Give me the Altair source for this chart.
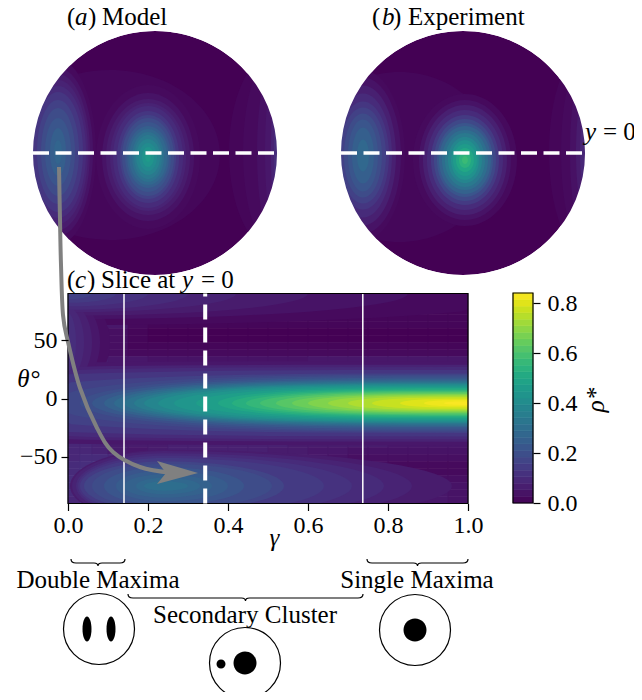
import math
import altair as alt
import pandas as pd

FONT = "Liberation Serif"
FS = 25
TS = 24

# ---- panel (c): rho*, rows theta=87..-87 (6 deg), columns below
gamma_edges = [0, .03, .06, .1, .15, .2, .25, .3, .35, .4, .45, .5, .55, .6, .65, .7, .75, .8, .85, .9, .95, 1.0]
theta_edges = [90, 84, 78, 72, 66, 60, 54, 48, 42, 36, 30, 24, 18, 12, 6, 0, -6, -12, -18, -24, -30, -36, -42, -48, -54, -60, -66, -72, -78, -84, -90]
rho = [
 [.18,.17,.15,.14,.13,.12,.11,.10,.09,.08,.08,.07,.06,.06,.05,.05,.04,.04,.03,.03,.03],
 [.17,.15,.14,.13,.11,.09,.08,.07,.07,.06,.06,.05,.05,.04,.04,.03,.03,.03,.02,.02,.02],
 [.16,.14,.12,.10,.08,.06,.05,.05,.04,.04,.03,.03,.03,.02,.02,.02,.02,.01,.01,.01,.01],
 [.15,.13,.10,.07,.05,.03,.03,.02,.02,.02,.02,.01,.01,.01,.01,.01,.01,.01,.01,.01,.01],
 [.14,.12,.08,.05,.02,.01,.01,.01,.01,.01,.01,.01,.01,.01,.01,.01,.01,.01,.01,.01,.01],
 [.13,.11,.07,.03,.01,.00,.00,.00,.00,.00,.00,.00,.00,.00,.00,.00,.00,.00,.00,.00,.00],
 [.12,.10,.06,.03,.01,.00,.00,.00,.00,.00,.00,.00,.00,.00,.00,.00,.00,.00,.00,.00,.00],
 [.10,.09,.06,.03,.01,.01,.01,.01,.01,.01,.01,.01,.01,.01,.01,.01,.01,.01,.01,.01,.01],
 [.09,.08,.06,.03,.02,.02,.02,.02,.02,.02,.02,.02,.02,.02,.02,.02,.02,.02,.02,.02,.02],
 [.08,.08,.07,.05,.05,.04,.04,.04,.04,.04,.04,.04,.04,.05,.05,.05,.05,.05,.05,.05,.05],
 [.09,.09,.09,.08,.08,.08,.08,.08,.08,.08,.08,.08,.09,.09,.09,.10,.10,.10,.10,.10,.10],
 [.10,.11,.12,.12,.13,.13,.14,.13,.14,.14,.14,.14,.15,.16,.16,.17,.17,.18,.18,.18,.18],
 [.12,.13,.15,.17,.19,.20,.21,.21,.22,.23,.24,.25,.27,.28,.29,.30,.31,.32,.32,.33,.33],
 [.14,.15,.18,.21,.25,.28,.29,.30,.31,.34,.36,.38,.41,.43,.45,.46,.47,.48,.49,.50,.50],
 [.16,.18,.21,.26,.32,.36,.38,.40,.42,.46,.49,.52,.56,.59,.61,.63,.65,.66,.68,.69,.70],
 [.18,.20,.24,.30,.37,.42,.45,.47,.50,.55,.59,.63,.67,.71,.74,.76,.78,.80,.82,.83,.84],
 [.17,.19,.23,.29,.35,.40,.43,.45,.48,.52,.56,.60,.64,.67,.70,.72,.74,.76,.78,.79,.80],
 [.15,.16,.18,.22,.27,.30,.32,.33,.36,.39,.42,.45,.48,.50,.53,.54,.55,.57,.58,.59,.60],
 [.12,.13,.14,.16,.18,.20,.21,.22,.23,.25,.27,.29,.30,.32,.34,.35,.35,.36,.37,.37,.38],
 [.10,.11,.11,.11,.12,.13,.13,.13,.14,.14,.15,.16,.17,.18,.18,.19,.19,.19,.20,.20,.20],
 [.09,.09,.09,.08,.08,.08,.09,.09,.09,.09,.09,.09,.09,.10,.10,.10,.10,.10,.10,.10,.10],
 [.09,.09,.08,.06,.06,.06,.07,.07,.07,.07,.07,.07,.06,.06,.06,.06,.06,.05,.05,.05,.05],
 [.09,.09,.08,.06,.05,.06,.07,.07,.07,.07,.07,.06,.06,.05,.05,.04,.04,.04,.04,.04,.04],
 [.09,.10,.10,.09,.08,.09,.09,.10,.09,.09,.08,.07,.06,.05,.04,.03,.03,.03,.03,.03,.03],
 [.10,.11,.12,.13,.13,.14,.14,.14,.13,.12,.10,.08,.07,.05,.04,.03,.03,.02,.02,.02,.02],
 [.10,.13,.16,.18,.19,.20,.20,.19,.17,.15,.13,.11,.09,.07,.05,.04,.03,.03,.02,.02,.02],
 [.11,.15,.20,.24,.26,.27,.26,.24,.21,.19,.17,.14,.12,.10,.08,.06,.05,.04,.03,.03,.03],
 [.11,.16,.22,.27,.30,.31,.30,.27,.24,.22,.19,.16,.14,.12,.10,.08,.07,.05,.05,.04,.04],
 [.10,.15,.21,.26,.29,.30,.29,.27,.24,.22,.19,.17,.15,.13,.11,.09,.08,.06,.05,.05,.04],
 [.09,.13,.18,.22,.25,.26,.25,.24,.21,.19,.17,.15,.13,.11,.10,.08,.07,.06,.05,.05,.04],
]
# contour tongues of the central ridge: (value, left tip in gamma, half height in degrees at gamma=1)
ridge_levels = [(.05,-1.6,36),(.08,-1.2,33),(.10,-.9,31),(.13,-.6,28.5),(.16,-.25,25.5),(.18,-.05,24.5),
 (.20,.03,23.5),(.23,.06,22),(.26,.09,20.5),(.29,.115,19.5),(.32,.14,18.5),(.35,.165,17.5),(.38,.19,16.8),
 (.41,.225,16),(.44,.265,15),(.47,.32,14),(.50,.375,13),(.53,.41,12),(.56,.445,11),(.59,.48,10.3),(.62,.52,9.5),
 (.65,.56,8.5),(.68,.60,7.8),(.71,.65,7),(.74,.70,6),(.77,.76,5),(.80,.83,3.8),(.82,.89,2.7),(.835,.94,1.5)]
ridge_centre = -4
# contours of the lower cluster: (value, reach left in gamma, reach right in gamma, half height in degrees)
lower_levels = [(.06,.235,.72,31),(.08,.23,.62,30),(.10,.22,.55,28),(.12,.215,.47,26),(.14,.21,.40,24),(.17,.20,.30,21),(.19,.18,.27,19),
 (.22,.15,.20,16),(.24,.12,.16,13),(.26,.10,.12,10),(.28,.07,.09,7),(.30,.05,.06,4)]
lower_centre = (.24, -75)
# contours of the upper band, from the top left corner: (value, reach in gamma, depth in degrees)
upper_levels = [(.02,1.2,27),(.04,.85,22),(.06,.6,19),(.08,.42,16),(.10,.3,14),(.12,.2,11),(.14,.12,8),(.16,.06,5)]
# contours along the left edge above the ridge: (value, reach in gamma, half height in degrees)
edge_levels = [(.03,.105,42),(.05,.08,38),(.07,.06,34),(.09,.04,30),(.11,.02,25)]
edge_centre = 48

# ---- discs: nested contour levels (value, half-width, half-height) per blob, centre in disc units
disc_a = [
 (-.37, -.016, [(.012, 110, 85)]),
 (-.057, -.033, [(.02,52,72),(.04,46,64),(.06,42,58),(.08,38,54),(.10,35,51),(.13,31,46),(.16,28,42),(.19,26,39),(.22,23,35),(.25,21,31),(.28,19,28),(.31,16,25),(.34,14,22),(.37,12,18),(.40,9,14),(.43,6,10),(.46,3,5)]),
 (-.795, .008, [(.02,38,92),(.04,35,84),(.06,32,78),(.08,30,72),(.10,28,66),(.13,25,60),(.16,21,52),(.19,17,44),(.22,13,34),(.25,8,24),(.27,4,12)]),
 (1.0, .008, [(.01,48,100),(.02,34,100),(.035,20,95),(.05,12,85),(.08,6,70),(.11,3,50)]),
]
disc_b = [
 (-.52, -.033, [(.012, 95, 85)]),
 (.016, -.057, [(.02,52,66),(.04,46,60),(.07,42,55),(.10,38,50),(.14,34,45),(.18,31,41),(.22,28,37),(.26,26,34),(.30,23,30),(.34,20,27),(.38,17,23),(.42,14,20),(.46,12,16),(.50,9,12),(.54,6,8),(.57,3,4)]),
 (-.82, -.02, [(.02,42,85),(.04,38,78),(.07,33,70),(.10,29,62),(.13,26,54),(.16,23,48),(.19,19,42),(.22,15,36),(.25,11,28),(.28,6,16)]),
 (1.0, .008, [(.01,36,100),(.02,24,95),(.035,15,85),(.06,9,60),(.09,5,35)]),
]

gamma_ticks = [0, .2, .4, .6, .8, 1.0]
theta_ticks = [-50, 0, 50]
rho_ticks = [0, .2, .4, .6, .8]
rho_max = .84
n_bar = 32
gamma_solid = [.14, .737]
gamma_dashed = .343

arrow_x = [59, 60, 61, 63, 68, 80, 97, 113, 140, 172]
arrow_y = [167, 220, 265, 315, 342, 388, 428, 452, 467, 473]

# upright / italic / centred texts in figure pixels
upright = [("(", 67, 25), (")", 88, 25), ("Model", 102, 25),
           ("(", 372, 25), (")", 393, 25), ("Experiment", 408, 25),
           ("(", 67, 288), (")", 87, 288), ("Slice at", 101, 288), ("= 0", 201, 288),
           ("= 0", 603, 140)]
italic = [("a", 75, 25), ("b", 382, 25), ("c", 75, 288), ("y", 182, 288), ("y", 585, 140)]
centred = [("Double Maxima", 98, 588), ("Single Maxima", 417, 588), ("Secondary Cluster", 245, 623)]

# schematic glyphs
rings = [(99, 629), (245, 663), (415, 630)]
dots = [(245, 663, 11.5), (221, 664, 4.5), (415, 630, 11.5)]
slots = [(87, 629, 4.5, 12.5), (111, 629, 4.5, 12.5)]
braces = [(98, 562, 27), (417.5, 562, 50.5), (245.5, 597, 117.5)]

PX_G = 400      # pixels per unit gamma
PX_T = 210 / 180  # pixels per degree
COL = alt.Scale(scheme="viridis", domain=[0, rho_max])
C_X = alt.Scale(domain=[0, 1], range=[60, 60 + PX_G], nice=False, zero=False)
C_Y = alt.Scale(domain=[-90, 90], range=[495.5, 285.5], nice=False, zero=False)
F_X = alt.Scale(domain=[0, 642], range=[-8, 634], nice=False, zero=False)
F_Y = alt.Scale(domain=[0, 700], range=[-8, 692], nice=False, zero=False)


def ell(a, b):
    return f"M{-a},0A{a},{b},0,1,1,{a},0A{a},{b},0,1,1,{-a},0Z"


def contour(al, ar, b, xmin, xmax, ymin, ymax, blunt=2):
    """Outline of a contour, cut at the edges of the panel."""
    pts = []
    for k in range(72):
        t = 2 * math.pi * k / 72
        c, s = math.cos(t), math.sin(t)
        x = (ar if c > 0 else al) * math.copysign(abs(c) ** (2 / blunt), c)
        y = b * s
        pts.append(f"{min(max(x, xmin), xmax):.2f},{min(max(y, ymin), ymax):.2f}")
    return "M" + "L".join(pts) + "Z"


def disc_layers(blobs, x0, x1):
    dx = alt.Scale(domain=[-1, 1], range=[x0 - 8, x1 - 8], nice=False, zero=False)
    dy = alt.Scale(domain=[-1, 1], range=[145 + 122, 145 - 122], nice=False, zero=False)
    rows = [{"x": 0, "y": 0, "v": 0.0, "p": ell(122, 122)}]
    lv = []
    for cx, cy, levels in blobs:
        for v, a, b in levels:
            lv.append({"x": cx, "y": cy, "v": v, "p": ell(a, b)})
    rows += sorted(lv, key=lambda r: r["v"])
    body = alt.Chart(pd.DataFrame(rows)).mark_point(filled=True, opacity=1, size=4).encode(
        x=alt.X("x:Q", scale=dx, axis=None), y=alt.Y("y:Q", scale=dy, axis=None),
        color=alt.Color("v:Q", scale=COL, legend=None),
        shape=alt.Shape("p:N", scale=None))
    mask = alt.Chart(pd.DataFrame({"x": [0], "y": [0]})).mark_arc(
        innerRadius=122, outerRadius=176, theta=0, theta2=6.2832, color="white").encode(
        x=alt.X("x:Q", scale=dx, axis=None), y=alt.Y("y:Q", scale=dy, axis=None))
    dash = alt.Chart(pd.DataFrame({"x": [-1], "x2": [.99], "y": [0]})).mark_rule(
        color="white", strokeWidth=3.5, strokeDash=[16, 6.5]).encode(
        x=alt.X("x:Q", scale=dx, axis=None), x2="x2:Q", y=alt.Y("y:Q", scale=dy, axis=None))
    return [body, mask, dash]


# heatmap
cells = []
for i, row in enumerate(rho):
    for j, v in enumerate(row):
        cells.append({"x": gamma_edges[j], "x2": gamma_edges[j + 1],
                      "y": theta_edges[i], "y2": theta_edges[i + 1], "v": v})
heat = alt.Chart(pd.DataFrame(cells)).mark_rect(strokeWidth=.6).encode(
    x=alt.X("x:Q", scale=C_X, axis=alt.Axis(
        values=gamma_ticks, format=".1f", grid=False, offset=495.5 - 684, tickSize=7, tickColor="black",
        domain=False, labelFont=FONT, labelFontSize=TS, labelColor="black", labelPadding=3, labelFlush=False,
        labelOverlap=False, zindex=1,
        title="γ", titleFont=FONT, titleFontSize=FS, titleFontStyle="italic", titleFontWeight="normal",
        titleColor="black", titleX=266, titleY=42, titleAnchor="middle", titleBaseline="alphabetic")),
    x2="x2:Q",
    y=alt.Y("y:Q", scale=C_Y, axis=alt.Axis(
        values=theta_ticks, grid=False, offset=-60, tickSize=7, tickColor="black", labelFlush=False,
        domain=False, labelFont=FONT, labelFontSize=TS, labelColor="black", labelPadding=4, zindex=1,
        title="θ°", titleFont=FONT, titleFontSize=FS, titleFontStyle="italic", titleFontWeight="normal",
        titleColor="black", titleAngle=0, titleX=-40, titleY=386 - 8, titleBaseline="alphabetic")),
    y2="y2:Q",
    color=alt.Color("v:Q", scale=COL, legend=None),
    stroke=alt.Stroke("v:Q", scale=COL, legend=None))

# nested contours of panel (c), drawn lowest value first
bot = -(-90 - ridge_centre) * PX_T
top = -(90 - ridge_centre) * PX_T
rows_c = []
for v, tip, h in ridge_levels:
    rows_c.append({"x": 1.0, "y": ridge_centre, "v": v,
                   "p": contour((1 - tip) * PX_G, 0, h * PX_T, -PX_G, 0, top, bot, blunt=3)})
lx, ly = lower_centre
for v, al, ar, h in lower_levels:
    rows_c.append({"x": lx, "y": ly, "v": v,
                   "p": contour(al * PX_G, ar * PX_G, h * PX_T, -lx * PX_G, (1 - lx) * PX_G,
                                -(90 - ly) * PX_T, (ly + 90) * PX_T)})
for v, ar, h in upper_levels:
    rows_c.append({"x": 0.0, "y": 90, "v": v,
                   "p": contour(0, ar * PX_G, h * PX_T, 0, PX_G, 0, 180 * PX_T)})
for v, ar, h in edge_levels:
    rows_c.append({"x": 0.0, "y": edge_centre, "v": v,
                   "p": contour(0, ar * PX_G, h * PX_T, 0, PX_G, -(90 - edge_centre) * PX_T, 200)})
rows_c.sort(key=lambda r: r["v"])
contours_c = alt.Chart(pd.DataFrame(rows_c)).mark_point(filled=True, opacity=1, size=4).encode(
    x=alt.X("x:Q", scale=C_X, axis=None), y=alt.Y("y:Q", scale=C_Y, axis=None),
    color=alt.Color("v:Q", scale=COL, legend=None),
    shape=alt.Shape("p:N", scale=None))

solid = alt.Chart(pd.DataFrame({"x": gamma_solid})).mark_rule(color="white", strokeWidth=1.5).encode(
    x=alt.X("x:Q", scale=C_X, axis=None),
    y=alt.datum(-90, scale=C_Y, axis=None), y2=alt.datum(90))
dashed = alt.Chart(pd.DataFrame({"x": [gamma_dashed]})).mark_rule(
    color="white", strokeWidth=4, strokeDash=[15, 8]).encode(
    x=alt.X("x:Q", scale=C_X, axis=None),
    y=alt.datum(-90, scale=C_Y, axis=None), y2=alt.datum(90))
frame = alt.Chart(pd.DataFrame({"x": [0], "x2": [1], "y": [-90], "y2": [90]})).mark_rect(
    filled=False, stroke="black", strokeWidth=1.2).encode(
    x=alt.X("x:Q", scale=C_X, axis=None), x2="x2:Q",
    y=alt.Y("y:Q", scale=C_Y, axis=None), y2="y2:Q")

# colourbar
bar_rows = [{"x": 0, "x2": 1, "y": rho_max * k / n_bar, "y2": rho_max * (k + 1) / n_bar,
             "v": rho_max * (k + .5) / n_bar} for k in range(n_bar)]
B_X = alt.Scale(domain=[0, 1], range=[505, 525], nice=False, zero=False)
B_Y = alt.Scale(domain=[0, rho_max], range=[495, 285], nice=False, zero=False)
bar = alt.Chart(pd.DataFrame(bar_rows)).mark_rect(strokeWidth=.6).encode(
    x=alt.X("x:Q", scale=B_X, axis=None), x2="x2:Q",
    y=alt.Y("y:Q", scale=B_Y, axis=alt.Axis(
        orient="right", values=rho_ticks, format=".1f", grid=False, offset=525 - 626, tickSize=7,
        tickColor="black", domain=False, labelFont=FONT, labelFontSize=TS, labelColor="black",
        labelPadding=7, labelFlush=False, title=None, zindex=1)),
    y2="y2:Q",
    color=alt.Color("v:Q", scale=COL, legend=None),
    stroke=alt.Stroke("v:Q", scale=COL, legend=None))
bar_frame = alt.Chart(pd.DataFrame({"x": [0], "x2": [1], "y": [0], "y2": [rho_max]})).mark_rect(
    filled=False, stroke="black", strokeWidth=1.2).encode(
    x=alt.X("x:Q", scale=B_X, axis=None), x2="x2:Q",
    y=alt.Y("y:Q", scale=B_Y, axis=None), y2="y2:Q")


def fig_enc(**kw):
    return dict(x=alt.X("x:Q", scale=F_X, axis=None), y=alt.Y("y:Q", scale=F_Y, axis=None), **kw)


arrow = alt.Chart(pd.DataFrame({"x": arrow_x, "y": arrow_y, "o": list(range(len(arrow_x)))})).mark_line(
    color="#808080", strokeWidth=4, interpolate="cardinal").encode(**fig_enc(order="o:Q"))
head = alt.Chart(pd.DataFrame({"x": [198], "y": [473], "p": ["M0,0L-41,-12L-32,0L-41,11Z"]})).mark_point(
    filled=True, opacity=1, size=4, color="#808080").encode(**fig_enc(shape=alt.Shape("p:N", scale=None)))


def texts(rows, style="normal", align="left", angle=0):
    df = pd.DataFrame(rows, columns=["t", "x", "y"])
    return alt.Chart(df).mark_text(font=FONT, fontSize=FS, fontStyle=style, align=align, angle=angle,
                                   baseline="alphabetic", color="black").encode(**fig_enc(text="t:N"))


rho_label = texts([("ρ*", 604, 400)], style="italic", align="center", angle=270)

ring_layer = alt.Chart(pd.DataFrame(rings, columns=["x", "y"])).mark_point(
    shape="circle", size=71 ** 2, filled=False, stroke="black", strokeWidth=1.2, opacity=1).encode(**fig_enc())
dots_df = pd.DataFrame(dots, columns=["x", "y", "r"])
dots_df["p"] = [ell(r, r) for r in dots_df["r"]]
slots_df = pd.DataFrame(slots, columns=["x", "y", "a", "b"])
slots_df["p"] = [ell(a, b) for a, b in zip(slots_df["a"], slots_df["b"])]
blobs = pd.concat([dots_df[["x", "y", "p"]], slots_df[["x", "y", "p"]]])
blob_layer = alt.Chart(blobs).mark_point(filled=True, opacity=1, size=4, color="black").encode(
    **fig_enc(shape=alt.Shape("p:N", scale=None)))
brace_df = pd.DataFrame(braces, columns=["x", "y", "w"])
brace_df["p"] = [f"M{-w},-3Q{-w},1 {-w+5},1L-4,1Q0,1 0,4Q0,1 4,1L{w-5},1Q{w},1 {w},-3" for w in brace_df["w"]]
brace_layer = alt.Chart(brace_df).mark_point(filled=False, opacity=1, size=4, color="black", strokeWidth=1.2,
                                             fill="transparent").encode(
    **fig_enc(shape=alt.Shape("p:N", scale=None)))

layers = (disc_layers(disc_a, 33, 277) + disc_layers(disc_b, 341, 585) +
          [heat, contours_c, solid, frame, dashed, bar, bar_frame, arrow, head,
           texts(upright), texts(italic, style="italic"), texts(centred, align="center"), rho_label,
           ring_layer, blob_layer, brace_layer])

chart = alt.layer(*layers).resolve_scale(
    x="independent", y="independent", color="shared", stroke="shared", shape="independent"
).properties(width=626, height=684, padding=0, autosize=alt.AutoSizeParams(type="none")
).configure_view(stroke=None).configure_axis(tickWidth=1.2)

chart.save("out.html", embed_options={"renderer": "svg", "actions": False})
